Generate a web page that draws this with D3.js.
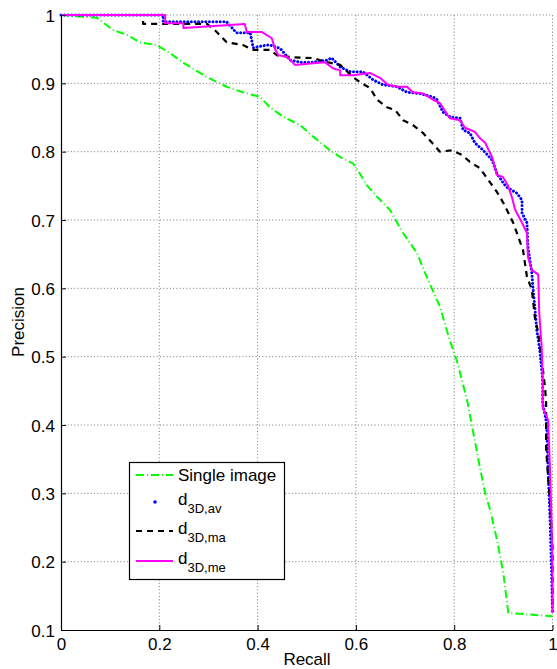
<!DOCTYPE html>
<html><head><meta charset="utf-8">
<script src="https://cdn.jsdelivr.net/npm/d3@7"></script>
<style>body{margin:0;background:#fff}svg{display:block;font-family:"Liberation Sans",Arial,sans-serif}</style>
</head><body><svg id="c" width="557" height="669"></svg>
<script>
const xTicks=[0,0.2,0.4,0.6,0.8,1];
const yTicks=[0.1,0.2,0.3,0.4,0.5,0.6,0.7,0.8,0.9,1];
const xLabel="Recall", yLabel="Precision";
const seriesNames=["Single image","d|3D,av","d|3D,ma","d|3D,me"];
const singleImage=[[0,1],[0.073,0.996],[0.106,0.978],[0.134,0.971],[0.16,0.96],[0.195,0.956],[0.222,0.944],[0.249,0.93],[0.297,0.909],[0.337,0.895],[0.37,0.887],[0.405,0.88],[0.425,0.865],[0.452,0.851],[0.486,0.839],[0.513,0.822],[0.547,0.802],[0.568,0.792],[0.594,0.783],[0.608,0.768],[0.622,0.751],[0.643,0.734],[0.669,0.715],[0.696,0.681],[0.724,0.652],[0.744,0.617],[0.771,0.573],[0.791,0.524],[0.805,0.495],[0.826,0.437],[0.839,0.388],[0.852,0.339],[0.863,0.3],[0.873,0.276],[0.887,0.232],[0.9,0.183],[0.91,0.125],[1.0,0.12]];
const d3Dav=[[0,1],[0.208,1],[0.208,0.99],[0.337,0.99],[0.357,0.974],[0.385,0.974],[0.391,0.952],[0.419,0.956],[0.425,0.956],[0.446,0.951],[0.466,0.934],[0.486,0.931],[0.513,0.931],[0.541,0.934],[0.551,0.937],[0.568,0.924],[0.588,0.917],[0.614,0.917],[0.635,0.905],[0.655,0.898],[0.684,0.895],[0.704,0.887],[0.73,0.885],[0.757,0.88],[0.765,0.876],[0.777,0.858],[0.791,0.851],[0.812,0.849],[0.818,0.832],[0.832,0.827],[0.842,0.813],[0.859,0.802],[0.877,0.788],[0.887,0.768],[0.9,0.754],[0.907,0.748],[0.928,0.739],[0.938,0.729],[0.938,0.71],[0.948,0.696],[0.95,0.661],[0.958,0.622],[0.96,0.602],[0.964,0.573],[0.968,0.539],[0.974,0.51],[0.98,0.466],[0.98,0.432],[0.988,0.403],[0.991,0.334],[0.995,0.261],[0.998,0.188],[1.0,0.125]];
const d3Dma=[[0,1],[0.167,1],[0.167,0.987],[0.297,0.987],[0.313,0.978],[0.337,0.96],[0.37,0.956],[0.391,0.949],[0.425,0.949],[0.44,0.941],[0.472,0.938],[0.513,0.937],[0.541,0.931],[0.568,0.927],[0.594,0.909],[0.612,0.9],[0.629,0.893],[0.643,0.876],[0.663,0.865],[0.68,0.861],[0.696,0.846],[0.716,0.839],[0.737,0.827],[0.755,0.813],[0.771,0.8],[0.795,0.802],[0.816,0.795],[0.832,0.785],[0.852,0.776],[0.869,0.759],[0.887,0.741],[0.9,0.725],[0.92,0.696],[0.94,0.656],[0.948,0.617],[0.958,0.598],[0.964,0.558],[0.971,0.535],[0.975,0.514],[0.985,0.454],[0.987,0.432],[0.987,0.368],[0.989,0.344],[0.991,0.324],[0.995,0.286],[1.0,0.221],[1.0,0.13]];
const d3Dme=[[0,1],[0.212,1],[0.212,0.988],[0.249,0.988],[0.249,0.981],[0.374,0.987],[0.378,0.975],[0.409,0.975],[0.429,0.966],[0.435,0.951],[0.442,0.941],[0.46,0.939],[0.476,0.927],[0.507,0.929],[0.537,0.931],[0.553,0.922],[0.568,0.919],[0.568,0.912],[0.594,0.912],[0.629,0.915],[0.649,0.908],[0.665,0.898],[0.684,0.895],[0.704,0.895],[0.716,0.887],[0.737,0.885],[0.757,0.876],[0.771,0.871],[0.791,0.849],[0.812,0.846],[0.822,0.835],[0.842,0.829],[0.852,0.82],[0.863,0.813],[0.877,0.792],[0.887,0.766],[0.899,0.763],[0.909,0.751],[0.918,0.732],[0.924,0.715],[0.938,0.696],[0.948,0.681],[0.95,0.646],[0.958,0.627],[0.971,0.62],[0.973,0.564],[0.978,0.514],[0.98,0.466],[0.98,0.426],[0.991,0.407],[0.995,0.334],[0.998,0.261],[1.0,0.188],[1.0,0.125]];

const styles=[
 {color:"#00ff00",width:2,dash:"8,3,1,3",cap:"butt"},
 {color:"#0000ff",width:3,dash:"0.01,3.6",cap:"round"},
 {color:"#000000",width:2.2,dash:"6,5",cap:"butt"},
 {color:"#ff00ff",width:2,dash:null,cap:"butt"}];
const allSeries=[singleImage,d3Dav,d3Dma,d3Dme];

const svg=d3.select("#c");
const x=d3.scaleLinear().domain([0,1]).range([61,552.5]);
const y=d3.scaleLinear().domain([0.1,1]).range([630,15]);

// grid
const g=svg.append("g");
g.selectAll(".vg").data(xTicks.filter(t=>t>0)).enter().append("line")
 .attr("x1",d=>x(d)).attr("x2",d=>x(d)).attr("y1",y(0.1)).attr("y2",y(1))
 .attr("stroke","#777").attr("stroke-width",1).attr("stroke-dasharray","1,2.3");
g.selectAll(".hg").data(yTicks.filter(t=>t>0.1)).enter().append("line")
 .attr("y1",d=>y(d)).attr("y2",d=>y(d)).attr("x1",x(0)).attr("x2",x(1))
 .attr("stroke","#777").attr("stroke-width",1).attr("stroke-dasharray","1,2.3");

// series
const line=d3.line().x(d=>x(d[0])).y(d=>y(d[1]));
allSeries.forEach((s,i)=>{
  const st=styles[i];
  const p=svg.append("path").datum(s).attr("d",line).attr("fill","none")
   .attr("stroke",st.color).attr("stroke-width",st.width).attr("stroke-linecap",st.cap).attr("stroke-linejoin","round");
  if(st.dash)p.attr("stroke-dasharray",st.dash);
});

// axes
const fmt=d=>d===0?"0":d===1?"1":d.toFixed(1);
const ax=svg.append("g").attr("transform",`translate(0,${y(0.1)})`)
 .call(d3.axisBottom(x).tickValues(xTicks).tickFormat(fmt).tickSizeInner(-5).tickSizeOuter(0).tickPadding(8));
const ay=svg.append("g").attr("transform",`translate(${x(0)},0)`)
 .call(d3.axisLeft(y).tickValues(yTicks).tickFormat(fmt).tickSizeInner(-5).tickSizeOuter(0).tickPadding(6));
[ax,ay].forEach(a=>{a.selectAll("text").attr("font-size",17).attr("fill","#000").attr("font-family","Liberation Sans, Arial, sans-serif");
 a.select(".domain").attr("stroke","#000").attr("stroke-width",1.2);a.selectAll(".tick line").attr("stroke","#000");});
ay.selectAll("text").attr("dy","0.36em");

svg.append("text").attr("x",307).attr("y",665).attr("text-anchor","middle").attr("font-size",17).text(xLabel);
svg.append("text").attr("transform","translate(24,322) rotate(-90)").attr("text-anchor","middle").attr("font-size",17).text(yLabel);

// legend
const lg=svg.append("g");
lg.append("rect").attr("x",129.5).attr("y",462.5).attr("width",155).attr("height",117).attr("fill","#fff").attr("stroke","#000").attr("stroke-width",1.2);
const ly=[475,502,531,561];
seriesNames.forEach((n,i)=>{
  const st=styles[i];
  if(i===1){
    lg.append("circle").attr("cx",155).attr("cy",ly[i]).attr("r",1.8).attr("fill",st.color);
  } else {
    const l=lg.append("line").attr("x1",136).attr("x2",173).attr("y1",ly[i]).attr("y2",ly[i])
     .attr("stroke",st.color).attr("stroke-width",st.width);
    if(st.dash)l.attr("stroke-dasharray",st.dash);
  }
  const parts=n.split("|");
  const t=lg.append("text").attr("x",178).attr("font-size",17);
  if(parts.length===1){t.attr("y",ly[i]+6).text(parts[0]);}
  else{
    t.attr("y",ly[i]+3);
    t.append("tspan").text(parts[0]);
    t.append("tspan").attr("font-size",13).attr("dy",8).text(parts[1]);
  }
});
</script></body></html>
